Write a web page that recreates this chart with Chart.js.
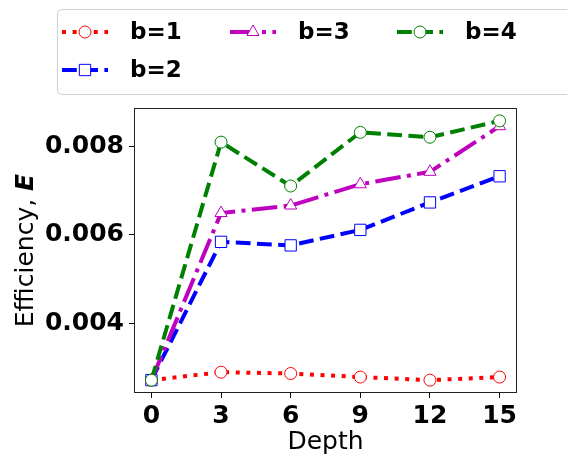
<!DOCTYPE html>
<html>
<head>
<meta charset="utf-8">
<script src="https://cdn.jsdelivr.net/npm/chart.js@4"></script>
<style>
  html, body { margin: 0; padding: 0; background: #fff; }
  #wrap { width: 567px; height: 454px; }
</style>
</head>
<body>
<div id="wrap"><canvas id="effChart" width="567" height="454"></canvas></div>
<script>
const depths = [0, 3, 6, 9, 12, 15];
const b1 = [0.00272, 0.00290, 0.00287, 0.00279, 0.00272, 0.00279];
const b2 = [0.00272, 0.00584, 0.00576, 0.00611, 0.00673, 0.00732];
const b3 = [0.00272, 0.00649, 0.00666, 0.00714, 0.00742, 0.00845];
const b4 = [0.00272, 0.00809, 0.00710, 0.00831, 0.00820, 0.00857];
const seriesNames = ["b=1", "b=2", "b=3", "b=4"];
const xTicks = [0, 3, 6, 9, 12, 15];
const yTicks = [0.004, 0.006, 0.008];

const FONT = "'DejaVu Sans', sans-serif";

function toPoints(vals) {
  return vals.map((v, i) => ({ x: depths[i], y: v }));
}

function makeSet(name, vals, color, dash, style, radius, order) {
  return {
    label: name,
    data: toPoints(vals),
    borderColor: color,
    backgroundColor: color,
    borderWidth: 4,
    borderDash: dash,
    borderCapStyle: "butt",
    fill: false,
    tension: 0,
    pointStyle: style,
    pointRadius: radius,
    pointBorderWidth: 1,
    pointBorderColor: color,
    pointBackgroundColor: "#fff",
    order: order,
  };
}

// frame round the plot + custom legend + axis titles
const extras = {
  id: "extras",
  afterDraw(chart) {
    const ctx = chart.ctx;
    const a = chart.chartArea;
    ctx.save();
    ctx.strokeStyle = "#222";
    ctx.lineWidth = 1;
    ctx.setLineDash([]);
    ctx.strokeRect(a.left + 0.5, a.top + 0.5, a.right - a.left - 1, a.bottom - a.top - 1);

    // y title: "Efficiency, " + bold italic E
    ctx.fillStyle = "#000";
    ctx.textBaseline = "alphabetic";
    ctx.translate(33, (a.top + a.bottom) / 2);
    ctx.rotate(-Math.PI / 2);
    const normal = "25px " + FONT;
    const bi = "italic bold 25px " + FONT;
    ctx.font = normal;
    const w1 = ctx.measureText("Efficiency, ").width;
    ctx.font = bi;
    const w2 = ctx.measureText("E").width;
    let sx = -(w1 + w2) / 2;
    ctx.font = normal;
    ctx.textAlign = "left";
    ctx.fillText("Efficiency, ", sx, 0);
    ctx.font = bi;
    ctx.fillText("E", sx + w1, 0);
    ctx.restore();

    // x title
    ctx.save();
    ctx.fillStyle = "#000";
    ctx.font = "25px " + FONT;
    ctx.textAlign = "center";
    ctx.textBaseline = "alphabetic";
    ctx.fillText("Depth", (a.left + a.right) / 2, 449);
    ctx.restore();

    // legend (matplotlib style, 3 columns, column-major)
    ctx.save();
    ctx.beginPath();
    ctx.roundRect(57.5, 9.5, 620, 85, 4);
    ctx.fillStyle = "rgba(255,255,255,0.8)";
    ctx.fill();
    ctx.strokeStyle = "#d0d0d0";
    ctx.lineWidth = 1;
    ctx.stroke();

    const colX = [62, 230, 397];
    const rowY = [32, 70];
    const slots = [[0, 0], [0, 1], [1, 0], [2, 0]];
    chart.data.datasets.forEach((ds, i) => {
      const hx = colX[slots[i][0]];
      const hy = rowY[slots[i][1]];
      ctx.strokeStyle = ds.borderColor;
      ctx.lineWidth = ds.borderWidth;
      ctx.lineCap = "butt";
      ctx.setLineDash(ds.borderDash);
      ctx.beginPath();
      ctx.moveTo(hx, hy);
      ctx.lineTo(hx + 46, hy);
      ctx.stroke();
      ctx.setLineDash([]);
      ctx.fillStyle = "#fff";
      ctx.strokeStyle = ds.borderColor;
      ctx.lineWidth = 1;
      Chart.helpers.drawPoint(ctx, {
        pointStyle: ds.pointStyle,
        radius: ds.pointRadius,
        rotation: 0,
        borderWidth: 1,
      }, hx + 23, hy);
      ctx.fillStyle = "#000";
      ctx.font = "bold 23px " + FONT;
      ctx.textAlign = "left";
      ctx.textBaseline = "middle";
      ctx.fillText(ds.label, hx + 68, hy + 1);
    });
    ctx.restore();
  },
};

const ctx = document.getElementById("effChart").getContext("2d");
new Chart(ctx, {
  type: "line",
  data: {
    datasets: [
      makeSet(seriesNames[0], b1, "#ff0000", [4, 6.6], "circle", 6, 4),
      makeSet(seriesNames[1], b2, "#0000ff", [14.8, 6.4], "rect", 8, 3),
      makeSet(seriesNames[2], b3, "#bf00bf", [25.6, 6.4, 4, 6.4], "triangle", 7, 2),
      makeSet(seriesNames[3], b4, "#008000", [14.8, 6.4], "circle", 6, 1),
    ],
  },
  options: {
    responsive: false,
    animation: false,
    devicePixelRatio: 1,
    layout: { padding: { left: 0, right: 50, top: 108, bottom: 0 } },
    plugins: {
      legend: { display: false },
      tooltip: { enabled: false },
    },
    scales: {
      x: {
        type: "linear",
        min: -0.75,
        max: 15.75,
        afterBuildTicks: (axis) => {
          axis.ticks = xTicks.map((v) => ({ value: v }));
        },
        afterFit: (axis) => { axis.height = 61; },
        grid: { display: true, drawOnChartArea: false, drawTicks: true, tickLength: 5, color: "#000" },
        border: { display: false },
        ticks: {
          color: "#000",
          padding: 3,
          maxRotation: 0,
          font: { family: FONT, size: 25, weight: "bold" },
        },
      },
      y: {
        type: "linear",
        min: 0.00243,
        max: 0.00886,
        afterBuildTicks: (axis) => {
          axis.ticks = yTicks.map((v) => ({ value: v }));
        },
        afterFit: (axis) => { axis.width = 134; },
        grid: { display: true, drawOnChartArea: false, drawTicks: true, tickLength: 5, color: "#000" },
        border: { display: false },
        ticks: {
          color: "#000",
          padding: 5,
          font: { family: FONT, size: 25, weight: "bold" },
          callback: (v) => v.toFixed(3),
        },
      },
    },
  },
  plugins: [extras],
});
</script>
</body>
</html>
